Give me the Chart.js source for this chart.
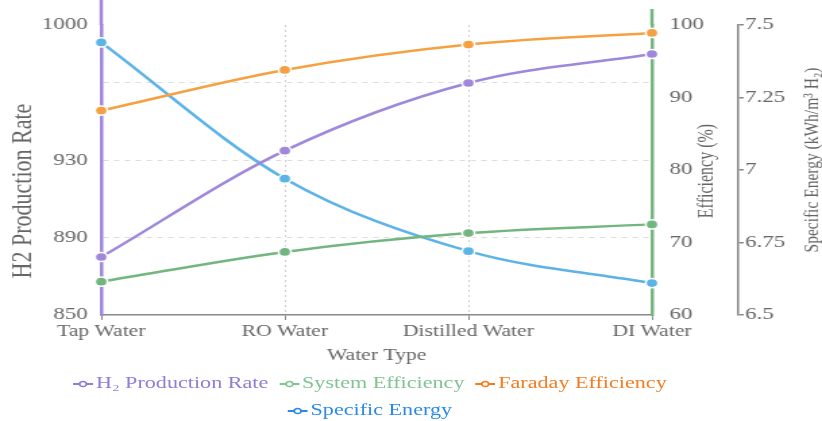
<!DOCTYPE html>
<html>
<head>
<meta charset="utf-8">
<script src="https://cdn.jsdelivr.net/npm/chart.js@4.4.1/dist/chart.umd.min.js"></script>
<style>
  html, body { margin: 0; padding: 0; background: #fff; overflow: hidden; }
  /* the reference is stretched sideways, so draw narrow and widen */
  #wrap { position: absolute; left: 0; top: 0; width: 609px; height: 421px;
          transform: scaleX(1.3498); transform-origin: 0 0; }
  #box { position: relative; width: 609px; height: 368px; }
  #legend { font-family: 'Liberation Serif', 'Times New Roman', serif; font-size: 16.4px; width: 548px; }
  #legend .row { text-align: center; height: 27px; line-height: 29px; white-space: nowrap; }
  #legend .item { display: inline-block; margin: 0 4px; }
  #legend svg { vertical-align: middle; margin-right: 2px; }
</style>
</head>
<body>
<div id="wrap">
  <div id="box"><canvas id="chart"></canvas></div>
  <div id="legend"></div>
</div>
<script>
const categories = ['Tap Water', 'RO Water', 'Distilled Water', 'DI Water'];
const h2Rate = [880, 935, 970, 985];
const systemEff = [64.6, 68.7, 71.3, 72.5];
const faradayEff = [88.2, 93.8, 97.3, 98.9];
const specificEnergy = [7.44, 6.97, 6.72, 6.61];
const h2Ticks = [850, 890, 930, 970, 1000];
const effTicks = [60, 70, 80, 90, 100];
const energyTicks = [6.5, 6.75, 7, 7.25, 7.5];

const FONT = "'Liberation Serif', 'Times New Roman', serif";
const TXT = '#666';
const colors = {
  h2: '#9f87db', sys: '#72b67f', far: '#f5a142', spec: '#5cb3e6'
};
const legendColors = {
  h2: '#8b80d6', sys: '#80c493', far: '#f47d21', spec: '#2b8ae8'
};

Chart.defaults.font.family = FONT;
Chart.defaults.color = TXT;

function series(label, data, key, axis) {
  return {
    label: label, data: data, yAxisID: axis,
    borderColor: colors[key], backgroundColor: colors[key],
    borderWidth: 2.5, cubicInterpolationMode: 'monotone',
    pointRadius: 4.6, pointHoverRadius: 4.6,
    pointBackgroundColor: colors[key], pointBorderColor: '#fff', pointBorderWidth: 1.5,
    fill: false
  };
}

const axisTitles = {
  id: 'axisTitles',
  afterDraw(chart) {
    const { ctx, chartArea } = chart;
    const put = (text, x, y, size) => {
      ctx.save();
      ctx.translate(x, y);
      ctx.rotate(-Math.PI / 2);
      ctx.font = size + 'px ' + FONT;
      ctx.fillStyle = TXT;
      ctx.textAlign = 'center';
      ctx.textBaseline = 'middle';
      ctx.fillText(text, 0, 0);
      ctx.restore();
    };
    put('H2 Production Rate', 17.5, 191, 22);
    put('Efficiency (%)', 524, 171, 16);
    put('Specific Energy (kWh/m\u00b3 H\u2082)', 602, 160, 15.5);
    // coloured axis lines run a little past the top of the plot
    ctx.save();
    ctx.lineWidth = 2.5;
    ctx.strokeStyle = colors.h2;
    ctx.beginPath(); ctx.moveTo(chartArea.left, 0); ctx.lineTo(chartArea.left, chartArea.top); ctx.stroke();
    ctx.strokeStyle = colors.sys;
    ctx.beginPath(); ctx.moveTo(chartArea.right, 9); ctx.lineTo(chartArea.right, chartArea.top); ctx.stroke();
    ctx.restore();
  }
};

new Chart(document.getElementById('chart'), {
  type: 'line',
  data: {
    labels: categories,
    datasets: [
      series('H\u2082 Production Rate', h2Rate, 'h2', 'y'),
      series('System Efficiency', systemEff, 'sys', 'y1'),
      series('Faraday Efficiency', faradayEff, 'far', 'y1'),
      series('Specific Energy', specificEnergy, 'spec', 'y2')
    ]
  },
  options: {
    responsive: true, maintainAspectRatio: false, animation: false,
    layout: { padding: { top: 25, left: 0, right: 0, bottom: 0 } },
    plugins: { legend: { display: false }, tooltip: { enabled: false } },
    scales: {
      x: {
        afterFit: s => { s.height = 53; },
        grid: {
          color: c => (c.index === 1 || c.index === 2) ? '#cfcfcf' : 'transparent',
          tickColor: '#888', tickLength: 5, tickBorderDash: [], lineWidth: 1
        },
        border: { color: '#888', width: 1.5, dash: [2, 3] },
        ticks: { font: { size: 16 }, color: TXT, padding: 2, maxRotation: 0 },
        title: { display: true, text: 'Water Type', font: { size: 16 }, color: TXT, padding: { top: 0, bottom: 3 } }
      },
      y: {
        position: 'left', min: 850, max: 1000,
        afterFit: s => { s.width = 75; },
        afterBuildTicks: s => { s.ticks = h2Ticks.map(v => ({ value: v })); },
        grid: {
          color: c => (c.tick && (c.tick.value === 850 || c.tick.value === 1000)) ? 'transparent' : '#dcdcdc',
          drawTicks: false
        },
        border: { color: colors.h2, width: 2.5, dash: [4, 4] },
        ticks: { font: { size: 17 }, color: TXT, padding: 10, callback: v => v === 970 ? '' : v }
      },
      y1: {
        position: 'right', min: 60, max: 100,
        afterFit: s => { s.width = 64; },
        afterBuildTicks: s => { s.ticks = effTicks.map(v => ({ value: v })); },
        grid: { display: false, drawTicks: false },
        border: { color: colors.sys, width: 2.5 },
        ticks: { font: { size: 17 }, color: TXT, padding: 13 }
      },
      y2: {
        position: 'right', min: 6.5, max: 7.5,
        afterFit: s => { s.width = 62; },
        afterBuildTicks: s => { s.ticks = energyTicks.map(v => ({ value: v })); },
        grid: { drawOnChartArea: false, color: '#888', tickLength: 4, lineWidth: 1.5 },
        border: { color: '#888', width: 1.5 },
        ticks: { font: { size: 17 }, color: TXT, padding: 1, callback: v => String(v) }
      }
    }
  },
  plugins: [axisTitles]
});

// legend drawn as html, two rows like the reference
const legendRows = [
  [['H\u2082 Production Rate', 'h2'], ['System Efficiency', 'sys'], ['Faraday Efficiency', 'far']],
  [['Specific Energy', 'spec']]
];
const marker = c => '<svg width="15" height="8"><line x1="0" y1="4" x2="15" y2="4" stroke="' + c +
  '" stroke-width="2"/><circle cx="7.5" cy="4" r="2.6" fill="#fff" stroke="' + c + '" stroke-width="1.5"/></svg>';
document.getElementById('legend').innerHTML = legendRows.map(row =>
  '<div class="row">' + row.map(([t, k]) =>
    '<span class="item" style="color:' + legendColors[k] + '">' + marker(legendColors[k]) + t + '</span>').join('') +
  '</div>').join('');
</script>
</body>
</html>
